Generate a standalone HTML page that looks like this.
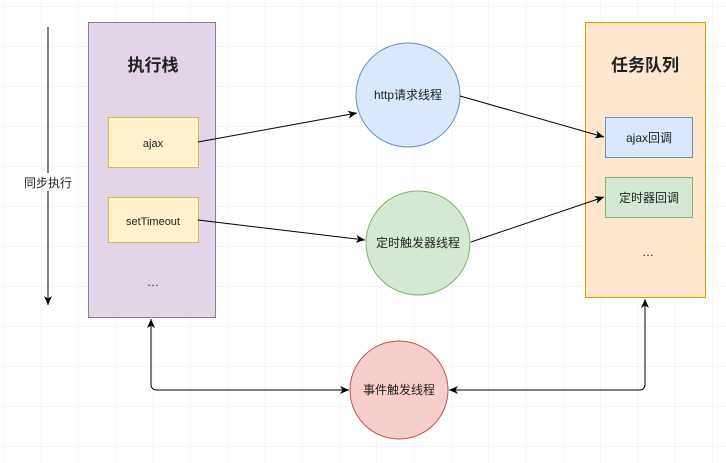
<!DOCTYPE html>
<html><head><meta charset="utf-8"><style>
html,body{margin:0;padding:0;background:#fff;}
svg{display:block;}
text{font-family:"Liberation Sans","Noto Sans CJK SC",sans-serif;fill:#222;}
</style></head><body>
<svg width="726" height="463" viewBox="0 0 726 463" xmlns="http://www.w3.org/2000/svg">
<defs>
<pattern id="g" x="4" y="7" width="37.3" height="40" patternUnits="userSpaceOnUse">
<path d="M37.3 0V40M0 40H37.3" stroke="#ececec" stroke-width="1" fill="none"/>
</pattern>
<marker id="a" markerWidth="10" markerHeight="10" refX="9" refY="5" orient="auto" markerUnits="userSpaceOnUse">
<path d="M0 1L9 5L0 9L2.5 5Z" fill="#000"/>
</marker>
</defs>
<rect width="726" height="463" fill="url(#g)"/>
<!-- left arrow -->
<line x1="48" y1="27" x2="48" y2="305" stroke="#000" marker-end="url(#a)"/>
<rect x="18" y="173" width="60" height="18" fill="#fff"/>
<text x="48" y="187" font-size="12" text-anchor="middle">同步执行</text>
<!-- stack -->
<rect x="88.5" y="22.5" width="127" height="295" fill="#e1d5e7" stroke="#9673a6"/>
<text x="153" y="71" font-size="17" font-weight="bold" text-anchor="middle">执行栈</text>
<rect x="108.5" y="117.5" width="90" height="50" fill="#fff2cc" stroke="#d6b656"/>
<text x="153" y="147" font-size="11" text-anchor="middle">ajax</text>
<rect x="108.5" y="197.5" width="90" height="45" fill="#fff2cc" stroke="#d6b656"/>
<text x="153" y="225" font-size="11" text-anchor="middle">setTimeout</text>
<text x="153" y="286" font-size="12" text-anchor="middle">…</text>
<!-- queue -->
<rect x="585.5" y="22.5" width="120" height="275" fill="#ffe6cc" stroke="#d79b00"/>
<text x="645" y="71" font-size="17" font-weight="bold" text-anchor="middle">任务队列</text>
<rect x="605.5" y="117.5" width="87" height="40" fill="#dae8fc" stroke="#6c8ebf"/>
<text x="649" y="142" font-size="12" text-anchor="middle">ajax回调</text>
<rect x="605.5" y="177.5" width="87" height="40" fill="#d5e8d4" stroke="#82b366"/>
<text x="649" y="202" font-size="12" text-anchor="middle">定时器回调</text>
<text x="648" y="256" font-size="12" text-anchor="middle">…</text>
<!-- circles -->
<circle cx="408" cy="95" r="52" fill="#dae8fc" stroke="#6c8ebf"/>
<text x="408" y="99" font-size="12" text-anchor="middle">http请求线程</text>
<circle cx="418" cy="243" r="52" fill="#d5e8d4" stroke="#82b366"/>
<text x="418" y="247" font-size="12" text-anchor="middle">定时触发器线程</text>
<circle cx="399" cy="390" r="49" fill="#f8cecc" stroke="#b85450"/>
<text x="399" y="394" font-size="12" text-anchor="middle">事件触发线程</text>
<!-- connectors -->
<line x1="198" y1="142" x2="357" y2="113" stroke="#000" marker-end="url(#a)"/>
<line x1="460" y1="96" x2="604" y2="137" stroke="#000" marker-end="url(#a)"/>
<line x1="198" y1="220" x2="365" y2="240" stroke="#000" marker-end="url(#a)"/>
<line x1="471" y1="242" x2="604" y2="197" stroke="#000" marker-end="url(#a)"/>
<path d="M349 390H157Q151 390 151 384V319" fill="none" stroke="#000" marker-end="url(#a)"/>
<path d="M340 390H349" fill="none" stroke="#000" marker-end="url(#a)"/>
<path d="M456 390H639Q645 390 645 384V299" fill="none" stroke="#000" marker-end="url(#a)"/>
<path d="M458 390H449" fill="none" stroke="#000" marker-end="url(#a)"/>
</svg>
</body></html>
